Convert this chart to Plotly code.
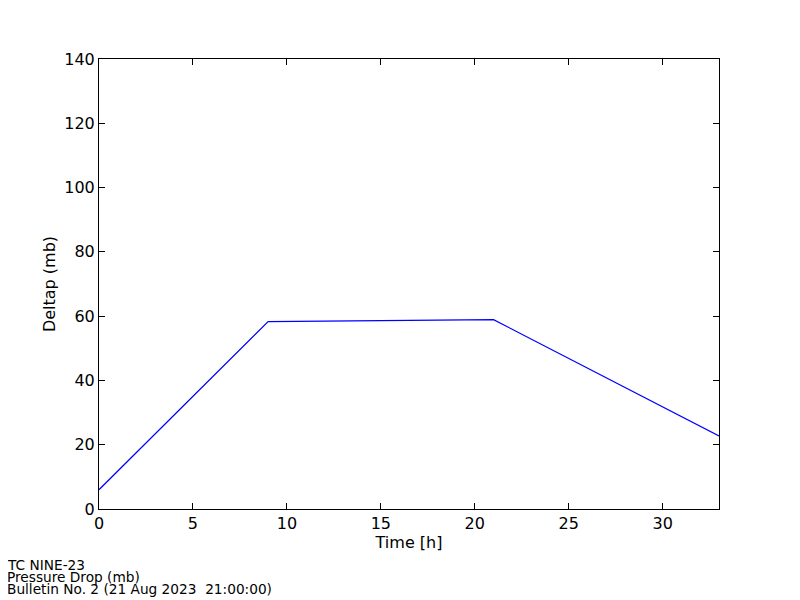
import plotly.graph_objects as go

time_h = [0, 9, 21, 33]
deltap = [6.0, 58.3, 58.9, 22.7]
x_ticks = [0, 5, 10, 15, 20, 25, 30]
y_ticks = [0, 20, 40, 60, 80, 100, 120, 140]
footer_lines = ["TC NINE-23", "Pressure Drop (mb)", "Bulletin No. 2 (21 Aug 2023  21:00:00)"]

# page body has an 8px margin; figure is sized so the plot area lands where the reference has it
W, H = 792, 592
ML, MR, MT, MB = 91, 81, 51, 91
PW, PH = W - ML - MR, H - MT - MB

fig = go.Figure()
fig.add_trace(go.Scatter(x=time_h, y=deltap, mode="lines",
                         line=dict(color="#0000ff", width=1.2), showlegend=False))

axis_common = dict(showgrid=False, zeroline=False, showline=True, linecolor="black",
                   linewidth=1, mirror="ticks", ticks="inside", ticklen=6,
                   tickcolor="black", tickfont=dict(size=16, color="black"))

fig.update_xaxes(range=[0, 33], tickvals=x_ticks,
                 title=dict(text="Time [h]", font=dict(size=16, color="black"), standoff=0),
                 **axis_common)
fig.update_yaxes(range=[0, 140], tickvals=y_ticks,
                 title=dict(text="Deltap (mb)", font=dict(size=16, color="black"), standoff=4),
                 **axis_common)

for i, line in enumerate(footer_lines):
    fig.add_annotation(text=line, xref="paper", yref="paper", x=-ML / PW,
                       y=-(56 + i * 12) / PH, xanchor="left", yanchor="middle",
                       showarrow=False, xshift=-2, borderpad=0,
                       font=dict(size=13.7, color="black"))

fig.update_layout(width=W, height=H, margin=dict(l=ML, r=MR, t=MT, b=MB),
                  paper_bgcolor="white", plot_bgcolor="white",
                  font=dict(family="DejaVu Sans", color="black"))

fig.write_html("out.html")
